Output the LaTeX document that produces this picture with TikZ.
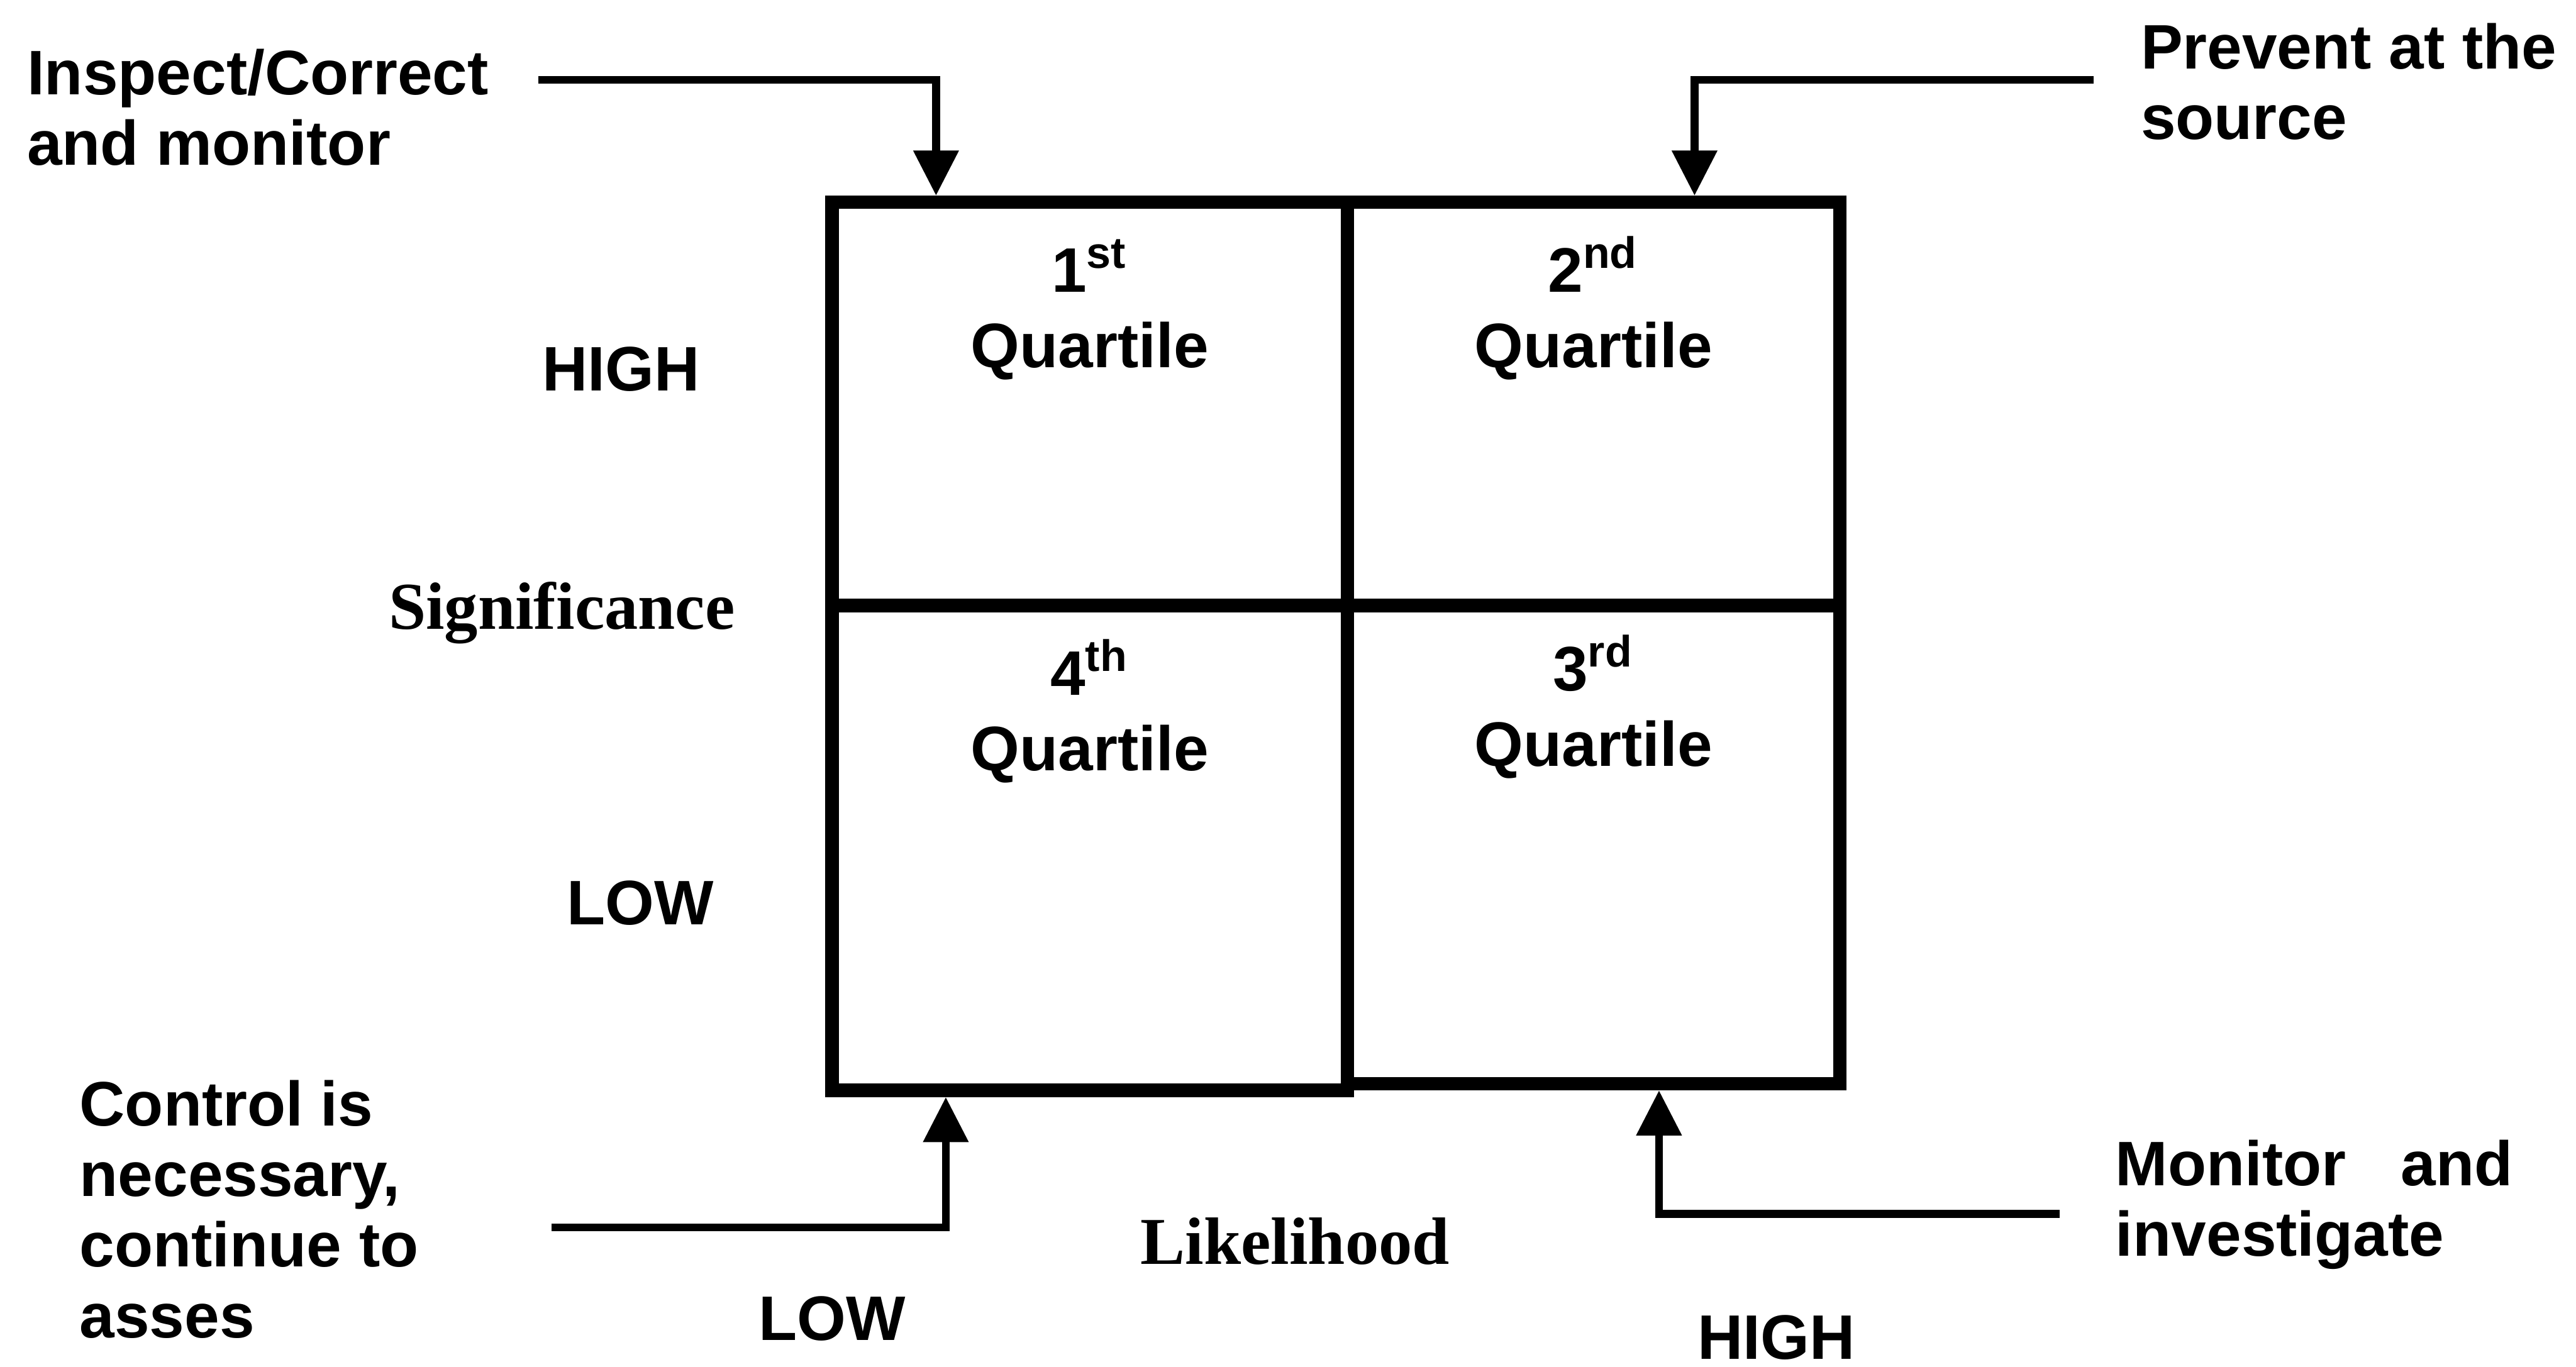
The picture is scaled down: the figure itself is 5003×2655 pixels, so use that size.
\documentclass[tikz,border=0pt]{standalone}
\usepackage{fontspec}
\usetikzlibrary{arrows.meta}
\newfontfamily\sansbold{Liberation Sans}
\newfontfamily\serifbold{Liberation Serif}
\begin{document}
\begin{tikzpicture}[x=0.04mm,y=-0.04mm,
  cell/.style={draw, line width=1.04mm, inner sep=0pt, rectangle},
  lbl/.style={inner sep=0pt, font=\sansbold\bfseries\fontsize{13.9pt}{15.6pt}\selectfont, align=left},
  qlbl/.style={inner sep=0pt, anchor=base, font=\sansbold\bfseries\fontsize{13.9pt}{16.7pt}\selectfont, align=center},
  axis/.style={inner sep=0pt, anchor=base, font=\serifbold\bfseries\fontsize{14.8pt}{16pt}\selectfont},
  arr/.style={line width=0.6mm, -{Triangle[length=3.5mm,width=3.4mm]}}]
\useasboundingbox (0,0) rectangle (5003,2655);

% quadrant cells
\node[cell, minimum width=40.04mm, minimum height=31.32mm] (q1) at (2116.5,784.5) {};
\node[cell, minimum width=38.24mm, minimum height=31.32mm] (q2) at (3095,784.5) {};
\node[cell, minimum width=40.04mm, minimum height=37.68mm] (q4) at (2116.5,1647) {};
\node[cell, minimum width=38.24mm, minimum height=37.16mm] (q3) at (3095,1640.5) {};

% quadrant titles (anchored on the baseline of the last line)
\node[qlbl] (t1) at (2116.5,714) {1\textsuperscript{st}\\Quartile};
\node[qlbl] (t2) at (3095,714) {2\textsuperscript{nd}\\Quartile};
\node[qlbl] (t4) at (2116.5,1497) {4\textsuperscript{th}\\Quartile};
\node[qlbl] (t3) at (3095,1488) {3\textsuperscript{rd}\\Quartile};

% axis labels
\node[lbl, anchor=base] (sighigh) at (1206,759) {HIGH};
\node[axis] (sig) at (1091,1222) {Significance};
\node[lbl, anchor=base] (siglow) at (1244,1796) {LOW};
\node[lbl, anchor=base] (likelow) at (1616,2603) {LOW};
\node[axis] (lik) at (2515,2456) {Likelihood};
\node[lbl, anchor=base] (likehigh) at (3450,2640) {HIGH};

% action notes (anchored on the baseline of the last line)
\node[lbl, anchor=base west] (insp) at (51,321) {Inspect/Correct\\and monitor};
\node[lbl, anchor=base west] (prev) at (4156,271) {Prevent at the\\source};
\node[lbl, anchor=base west] (ctrl) at (153,2598) {Control is\\necessary,\\continue to\\asses};
\node[lbl, anchor=base west] (mon) at (4107,2440) {\makebox[30.84mm][s]{Monitor and}\\investigate};

% connectors from the notes to the quadrants
\coordinate (a1) at (1046,155);
\coordinate (a2) at (4066,155);
\coordinate (a3) at (1071,2384);
\coordinate (a4) at (4000,2358);
\draw[arr] (a1) -| ([xshift=-11.94mm]q1.north);
\draw[arr] (a2) -| ([xshift=7.84mm]q2.north);
\draw[arr] (a3) -| ([xshift=-11.18mm]q4.south);
\draw[arr] (a4) -| ([xshift=5.08mm]q3.south);
\end{tikzpicture}
\end{document}
